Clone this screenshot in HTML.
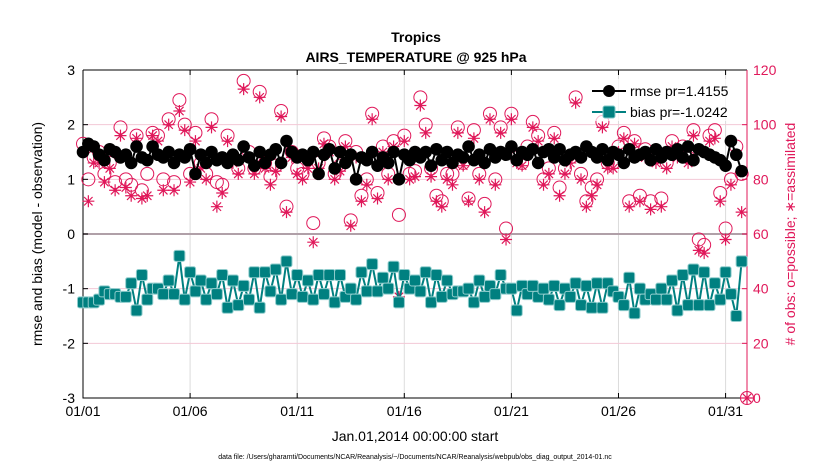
<!DOCTYPE html>
<html><head><meta charset="utf-8"><style>
body{margin:0;background:#fff;}
svg text{font-family:"Liberation Sans",sans-serif;}
</style></head><body>
<svg id="chart" width="830" height="470" xmlns="http://www.w3.org/2000/svg">
<rect width="830" height="470" fill="#fff"/>
<g id="grid"></g>
<g id="axes"></g>
<g id="series"></g>
<text x="416" y="42" text-anchor="middle" font-size="14" font-weight="bold">Tropics</text>
<text x="416" y="62" text-anchor="middle" font-size="14" font-weight="bold">AIRS_TEMPERATURE @ 925 hPa</text>
<text x="0" y="0" transform="translate(42,234) rotate(-90)" text-anchor="middle" font-size="14">rmse and bias (model - observation)</text>
<text x="0" y="0" transform="translate(795,234) rotate(-90)" text-anchor="middle" font-size="14" fill="#e0185a"># of obs: o=possible; ∗=assimilated</text>
<text x="415" y="441" text-anchor="middle" font-size="14">Jan.01,2014 00:00:00 start</text>
<text x="415" y="459" text-anchor="middle" font-size="7">data file: /Users/gharamti/Documents/NCAR/Reanalysis/~/Documents/NCAR/Reanalysis/webpub/obs_diag_output_2014-01.nc</text>
<g>
<rect x="585" y="79" width="144" height="42" fill="#fff" fill-opacity="0.7"/>
<line x1="592" y1="91" x2="626" y2="91" stroke="#000" stroke-width="2"/>
<circle cx="609" cy="91" r="6" fill="#000"/>
<text x="630" y="96" font-size="14">rmse pr=1.4155</text>
<line x1="592" y1="112" x2="626" y2="112" stroke="#008080" stroke-width="2"/>
<rect x="603" y="106" width="12" height="12" rx="2" fill="#008080" stroke="#7fc8c8"/>
<text x="630" y="117" font-size="14">bias pr=-1.0242</text>
</g>
</svg>
<script>
const rmse=[1.5,1.65,1.6,1.45,1.35,1.55,1.5,1.4,1.45,1.3,1.6,1.4,1.35,1.6,1.45,1.4,1.5,1.3,1.45,1.4,1.55,1.1,1.45,1.3,1.5,1.35,1.4,1.3,1.45,1.35,1.6,1.4,1.25,1.5,1.3,1.45,1.55,1.3,1.7,1.5,1.4,1.45,1.35,1.5,1.1,1.45,1.55,1.2,1.5,1.3,1.45,1.0,1.4,1.35,1.5,1.25,1.4,1.3,1.5,1.0,1.45,1.35,1.5,1.4,1.5,1.25,1.55,1.35,1.5,1.3,1.45,1.4,1.6,1.35,1.45,1.3,1.55,1.4,1.5,1.45,1.6,1.35,1.5,1.45,1.55,1.3,1.5,1.55,1.4,1.55,1.35,1.45,1.5,1.4,1.6,1.5,1.4,1.55,1.35,1.5,1.45,1.3,1.55,1.4,1.45,1.5,1.35,1.55,1.4,1.5,1.45,1.55,1.4,1.6,1.35,1.55,1.5,1.45,1.4,1.35,1.25,1.7,1.45,1.15];
const bias=[-1.25,-1.25,-1.25,-1.2,-1.05,-1.1,-1.1,-1.15,-1.15,-0.9,-1.4,-0.75,-1.2,-1.0,-1.0,-1.1,-0.85,-1.1,-0.4,-1.2,-0.7,-1.05,-0.85,-1.2,-0.9,-1.1,-0.75,-1.35,-0.85,-1.3,-0.95,-1.2,-0.7,-1.35,-0.7,-1.05,-0.65,-1.2,-0.5,-1.1,-0.75,-1.15,-0.85,-1.2,-0.75,-1.1,-0.75,-1.25,-0.75,-1.15,-1.0,-1.2,-0.7,-1.05,-0.55,-1.05,-0.8,-1.0,-0.6,-1.25,-0.75,-1.0,-0.85,-1.05,-0.7,-1.25,-0.75,-1.15,-0.85,-1.1,-1.05,-1.05,-1.0,-1.25,-0.85,-1.15,-0.95,-1.1,-0.75,-1.0,-1.0,-1.4,-0.95,-1.1,-0.95,-1.15,-1.0,-1.2,-0.95,-1.3,-1.0,-1.15,-0.9,-1.3,-0.95,-1.35,-0.9,-1.35,-0.9,-1.05,-1.15,-1.3,-0.8,-1.45,-1.0,-1.2,-1.1,-1.2,-1.0,-1.2,-0.85,-1.4,-0.75,-1.3,-0.65,-1.3,-0.7,-1.3,-0.9,-1.2,-0.7,-1.1,-1.5,-0.5];
const possible=[93,80,88,90,82,86,79,99,80,78,96,76,82,97,96,80,102,79,109,100,82,97,86,82,102,79,78,96,88,84,116,90,84,112,86,81,85,105,70,90,84,82,88,64,86,95,92,82,85,94,65,90,74,80,104,75,92,82,94,67,96,82,83,110,100,84,74,72,82,82,99,86,73,98,82,71,104,80,99,62,104,88,86,92,101,96,80,84,97,77,84,88,110,82,72,77,80,101,86,86,92,97,72,94,74,91,72,88,73,86,94,90,92,88,98,58,56,96,98,75,62,80,92,82,0];
const assimilated=[90,72,86,86,79,84,76,96,77,74,95,73,74,96,94,76,100,76,105,98,79,94,84,80,99,70,75,94,86,82,113,88,82,110,84,78,83,103,68,88,82,80,84,57,84,93,90,80,83,92,63,88,72,78,102,73,90,80,92,37,94,80,81,107,97,81,72,70,80,78,97,85,72,95,80,68,102,78,97,58,102,86,85,90,99,94,78,82,95,74,82,86,108,80,70,74,78,99,84,84,90,95,70,93,72,88,69,86,70,84,92,88,90,86,96,54,53,94,95,72,58,78,89,68,0];
const xTickLabels=["01/01","01/06","01/11","01/16","01/21","01/26","01/31"];
const xTickDays=[0,5,10,15,20,25,30];
const yTicksLeft=[-3,-2,-1,0,1,2,3];
const yTicksRight=[0,20,40,60,80,100,120];

const X0=83,X1=747,Y0=398,Y1=70;
const sx=d=>X0+(d/31)*(X1-X0);
const sy=v=>Y0-(v+3)/6*(Y0-Y1);
const sr=v=>Y0-v/120*(Y0-Y1);
const NS="http://www.w3.org/2000/svg";
function mk(tag,attrs,parent){const e=document.createElementNS(NS,tag);for(const k in attrs)e.setAttribute(k,attrs[k]);parent.appendChild(e);return e;}
const grid=document.getElementById('grid'),axes=document.getElementById('axes'),ser=document.getElementById('series');
const MAG="#e0185a";

xTickDays.forEach((d,i)=>{
  const gl=mk('line',{x1:sx(d),x2:sx(d),y1:Y1,y2:Y0,stroke:'#dcdcdc','stroke-width':1},grid);
  
  
  mk('line',{x1:sx(d),x2:sx(d),y1:Y0,y2:Y0-5,stroke:'#000'},axes);
  mk('line',{x1:sx(d),x2:sx(d),y1:Y1,y2:Y1+5,stroke:'#000'},axes);
  const t=mk('text',{x:sx(d),y:Y0+18,'text-anchor':'middle','font-size':14},axes);
  t.textContent=xTickLabels[i];
  
  
});
yTicksLeft.forEach(v=>{
  if(v!==-3&&v!==3){
    const gl=mk('line',{x1:X0,x2:X1,y1:sy(v),y2:sy(v),stroke:v===0?'#b0a0a8':'#f3c8d6','stroke-width':v===0?2:1},grid);
    
    
  }
  mk('line',{x1:X0,x2:X0+5,y1:sy(v),y2:sy(v),stroke:'#000'},axes);
  const t=mk('text',{x:X0-8,y:sy(v)+5,'text-anchor':'end','font-size':14},axes);
  t.textContent=v;
  
  
});
yTicksRight.forEach(v=>{
  mk('line',{x1:X1,x2:X1-5,y1:sr(v),y2:sr(v),stroke:MAG},axes);
  const t=mk('text',{x:X1+6,y:sr(v)+5,'font-size':14,fill:MAG},axes);
  t.textContent=v;
  
  
});
const ax=mk('path',{d:`M${X0},${Y1}H${X1}M${X0},${Y1}V${Y0}H${X1}`,stroke:'#000',fill:'none'},axes);


const ra=mk('line',{x1:X1,x2:X1,y1:Y1,y2:Y0,stroke:MAG},axes);



// obs counts
possible.forEach((v,i)=>{
  const c=mk('circle',{cx:sx(i*0.25),cy:sr(v),r:6.5,fill:'none',stroke:MAG,'stroke-width':1},ser);
  
  
});
assimilated.forEach((v,i)=>{
  const x=sx(i*0.25),y=sr(v),r=6;
  const p=mk('path',{d:`M${x-r},${y}H${x+r}M${x},${y-r}V${y+r}M${x-r*0.7},${y-r*0.7}L${x+r*0.7},${y+r*0.7}M${x-r*0.7},${y+r*0.7}L${x+r*0.7},${y-r*0.7}`,stroke:MAG,'stroke-width':1.2,fill:'none'},ser);
  
  
});
// rmse
const rl=mk('polyline',{points:rmse.map((v,i)=>sx(i*0.25)+','+sy(v)).join(' '),fill:'none',stroke:'#000','stroke-width':2},ser);


rmse.forEach((v,i)=>{
  const c=mk('circle',{cx:sx(i*0.25),cy:sy(v),r:6.3,fill:'#000'},ser);
  
  
});
// bias
const bl=mk('polyline',{points:bias.map((v,i)=>sx(i*0.25)+','+sy(v)).join(' '),fill:'none',stroke:'#008080','stroke-width':2},ser);


bias.forEach((v,i)=>{
  const r=mk('rect',{x:sx(i*0.25)-5.5,y:sy(v)-5.5,width:11,height:11,rx:2,fill:'#008080',stroke:'#8fcccc','stroke-width':1},ser);
  
  
});
</script>
</body></html>
